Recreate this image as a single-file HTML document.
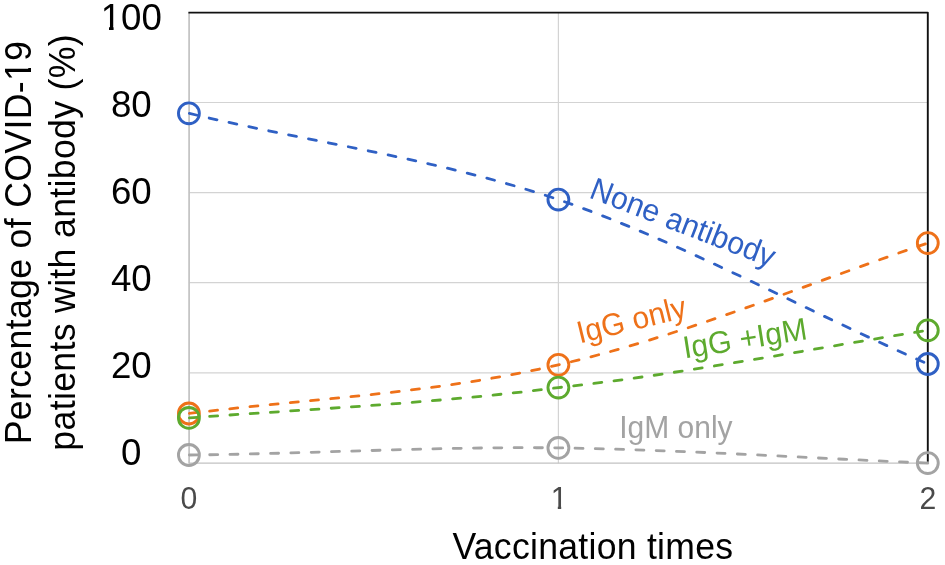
<!DOCTYPE html>
<html lang="en"><head><meta charset="utf-8"><title>Vaccination times vs antibody</title>
<style>html,body{margin:0;padding:0;background:#fff;}body{width:945px;height:565px;overflow:hidden;}svg{display:block;}text{font-family:"Liberation Sans",sans-serif;}</style></head><body>
<svg width="945" height="565" viewBox="0 0 945 565">
<rect width="945" height="565" fill="#fff"/>
<g opacity="0.999">
<g stroke="#d3d3d3" stroke-width="1.2" fill="none">
<line x1="188.9" y1="102.5" x2="927.8" y2="102.5"/>
<line x1="188.9" y1="192.6" x2="927.8" y2="192.6"/>
<line x1="188.9" y1="282.7" x2="927.8" y2="282.7"/>
<line x1="188.9" y1="372.8" x2="927.8" y2="372.8"/>
<line x1="558.4" y1="12.6" x2="558.4" y2="463.2"/>
</g>
<g stroke="#c2c2c2" fill="none">
<line x1="189.1" y1="12.6" x2="189.1" y2="463.7" stroke-width="1.7"/>
<line x1="188.9" y1="463.2" x2="927.8" y2="463.2" stroke-width="1.2"/>
</g>
<path d="M188.4 12.6 H927.8 V461.8" fill="none" stroke="#111" stroke-width="1.9" stroke-linejoin="round"/>
<path d="M188.90 113.30 C312.05 142.65 435.20 158.14 558.35 199.60 C681.50 241.92 804.65 310.22 927.80 364.00" fill="none" stroke="#2f60c4" stroke-width="2.8" stroke-dasharray="8.0 12.3" stroke-dashoffset="-0.5" stroke-linecap="round"/>
<circle cx="188.9" cy="113.3" r="10.45" fill="none" stroke="#2f60c4" stroke-width="2.9"/>
<circle cx="558.4" cy="199.6" r="10.45" fill="none" stroke="#2f60c4" stroke-width="2.9"/>
<circle cx="927.8" cy="364.0" r="10.45" fill="none" stroke="#2f60c4" stroke-width="2.9"/>
<path d="M188.90 413.50 C312.05 398.39 435.20 393.61 558.35 364.80 C681.50 336.57 804.65 284.51 927.80 243.10" fill="none" stroke="#ee7119" stroke-width="2.8" stroke-dasharray="8.0 12.3" stroke-dashoffset="-0.5" stroke-linecap="round"/>
<circle cx="188.9" cy="413.5" r="10.45" fill="none" stroke="#ee7119" stroke-width="2.9"/>
<circle cx="558.4" cy="364.8" r="10.45" fill="none" stroke="#ee7119" stroke-width="2.9"/>
<circle cx="927.8" cy="243.1" r="10.45" fill="none" stroke="#ee7119" stroke-width="2.9"/>
<path d="M188.90 455.00 C312.05 453.80 435.20 446.42 558.35 447.90 C681.50 449.78 804.65 457.96 927.80 463.10" fill="none" stroke="#a3a3a3" stroke-width="2.8" stroke-dasharray="8.0 12.3" stroke-dashoffset="-0.5" stroke-linecap="round"/>
<circle cx="188.9" cy="455.0" r="10.45" fill="none" stroke="#a3a3a3" stroke-width="2.9"/>
<circle cx="558.4" cy="447.9" r="10.45" fill="none" stroke="#a3a3a3" stroke-width="2.9"/>
<circle cx="927.8" cy="463.1" r="10.45" fill="none" stroke="#a3a3a3" stroke-width="2.9"/>
<path d="M188.90 417.90 C312.05 408.92 435.20 403.33 558.35 387.60 C681.50 374.22 804.65 349.87 927.80 330.30" fill="none" stroke="#5daa2e" stroke-width="2.8" stroke-dasharray="8.0 12.3" stroke-dashoffset="-0.5" stroke-linecap="round"/>
<circle cx="188.9" cy="417.9" r="10.45" fill="none" stroke="#5daa2e" stroke-width="2.9"/>
<circle cx="558.4" cy="387.6" r="10.45" fill="none" stroke="#5daa2e" stroke-width="2.9"/>
<circle cx="927.8" cy="330.3" r="10.45" fill="none" stroke="#5daa2e" stroke-width="2.9"/>
<text transform="translate(131.30 30.10) scale(1 1.010)" font-size="36.7" fill="#000" text-anchor="middle">100</text>
<text transform="translate(131.30 117.15) scale(1 1.010)" font-size="36.7" fill="#000" text-anchor="middle">80</text>
<text transform="translate(131.30 204.20) scale(1 1.010)" font-size="36.7" fill="#000" text-anchor="middle">60</text>
<text transform="translate(131.30 291.25) scale(1 1.010)" font-size="36.7" fill="#000" text-anchor="middle">40</text>
<text transform="translate(131.30 378.30) scale(1 1.010)" font-size="36.7" fill="#000" text-anchor="middle">20</text>
<text transform="translate(131.30 465.35) scale(1 1.010)" font-size="36.7" fill="#000" text-anchor="middle">0</text>
<text transform="translate(188.90 508.90) scale(1 1.060)" font-size="30.2" fill="#4a4a4a" text-anchor="middle">0</text>
<text transform="translate(559.15 508.90) scale(1 1.060)" font-size="30.2" fill="#4a4a4a" text-anchor="middle">1</text>
<text transform="translate(927.80 508.90) scale(1 1.060)" font-size="30.2" fill="#4a4a4a" text-anchor="middle">2</text>
<text transform="translate(452.40 559.00) scale(1 1.040)" font-size="35.6" fill="#000" letter-spacing="0.28">Vaccination times</text>
<text transform="translate(31.20 242.50) rotate(-90.00) scale(1 1.040)" font-size="35.7" fill="#000" text-anchor="middle" letter-spacing="0.31">Percentage of COVID-19</text>
<text transform="translate(74.90 242.30) rotate(-90.00) scale(1 1.040)" font-size="35.7" fill="#000" text-anchor="middle" letter-spacing="0.31">patients with antibody (%)</text>
<text transform="translate(588.00 197.30) rotate(21.10) scale(1 1.040)" font-size="30.3" fill="#2f60c4">None antibody</text>
<text transform="translate(579.70 343.40) rotate(-13.80) scale(1 1.040)" font-size="30.0" fill="#ee7119">IgG only</text>
<text transform="translate(684.80 358.60) rotate(-9.00) scale(1 1.040)" font-size="30.2" fill="#5daa2e">IgG +IgM</text>
<text transform="translate(619.20 438.10) scale(1 1.040)" font-size="30.0" fill="#a3a3a3">IgM only</text>
<g fill="#fff">
<rect x="551.8" y="505.7" width="6.0" height="4.3"/>
<rect x="561.2" y="505.7" width="6.6" height="4.3"/>
<rect x="102.5" y="26.4" width="6.5" height="4.2"/>
<rect x="113.6" y="26.4" width="7.0" height="4.2"/>
<rect x="27.5" y="61.5" width="4.2" height="6.5"/>
<rect x="27.5" y="72.0" width="4.2" height="7.5"/>
</g>
</g>
</svg></body></html>
